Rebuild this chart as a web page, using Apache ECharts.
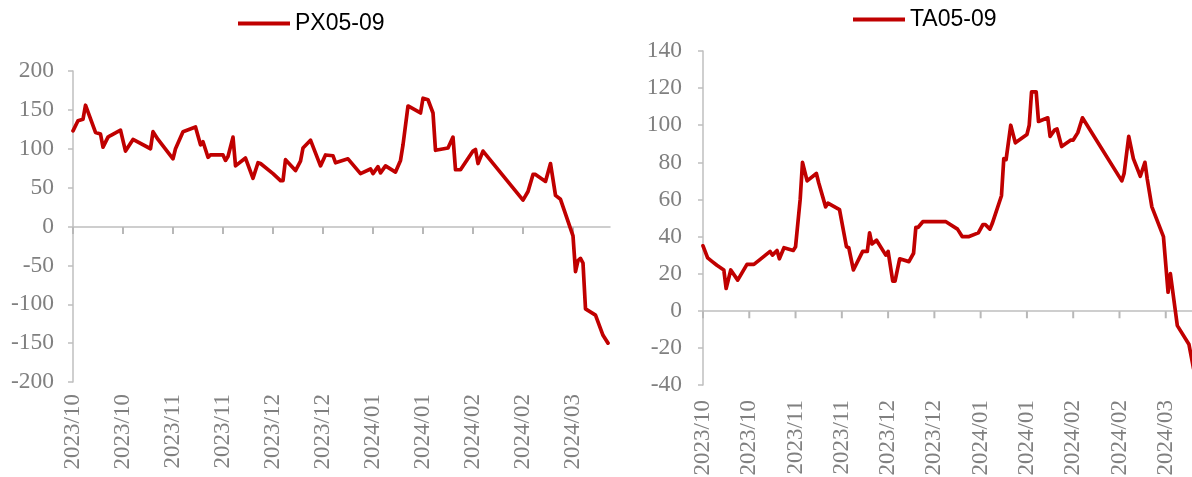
<!DOCTYPE html>
<html>
<head>
<meta charset="utf-8">
<script src="https://cdn.jsdelivr.net/npm/echarts/dist/echarts.min.js"></script>
<style>
  html, body { margin: 0; padding: 0; background: #ffffff; }
  #chart { width: 1192px; height: 477px; }
</style>
</head>
<body>
<div id="chart"></div>
<script>
// Tick labels shown under every 10th trading day
const tickLabels = ['2023/10','2023/10','2023/11','2023/11','2023/12','2023/12','2024/01','2024/01','2024/02','2024/02','2024/03'];
const tickDays = [0,10,20,30,40,50,60,70,80,90,100];

// PX05-09 spread: trading-day index and value
const pxDay = [0,1,2,2.5,4.5,5.5,6,7,7.5,9.5,10.5,12,15.5,16,17,20,20.5,22,24.5,25.5,26,27,27.5,30,30.5,31,32,32.5,34.5,36,37,37.5,40,41.5,42,42.5,44.5,45.5,46,47.5,49.5,50.5,52,52.5,55,57.5,59.5,60,61,61.5,62.5,64.5,65.5,66,67,69.5,70,71,72,72.5,75,75.5,76,76.5,77.5,80,80.5,81,82,90,91,92,92.5,94.5,95.5,96.5,97.5,100,100.5,101,101.5,102,102.5,104.5,106,107];
const pxVal = [123,136,138,156,121,119,102,115,117,124,97,112,100,122,112,87,100,122,128,105,109,89,92,92,85,90,115,78,88,62,82,81,68,59,59,86,72,84,101,111,78,92,91,82,87,68,74,68,77,69,78,70,85,105,155,146,165,163,146,98,101,108,115,73,73,97,99,81,97,34,45,67,67,58,81,40,35,-12,-58,-44,-41,-47,-106,-114,-140,-150];

// TA05-09 spread: trading-day index and value
const taDay = [0,1,2,3,4.5,5,6,7.5,9.5,11,12.5,14.5,15,16,16.5,17.5,19.5,20,21,21.5,22.5,24.5,25,26.5,27,29.5,31,31.5,32.5,34.5,35.5,36,36.5,37.5,39.5,40,41,41.5,42.5,44.5,45.5,46,46.5,47.5,52.5,55,56,57.5,59.5,60.5,61,62,62.5,64.5,65,65.5,66.5,67.5,70,70.5,71,72,72.5,74.5,75,76,76.5,77.5,79.5,80,81,82,90.5,91,92,93,94.5,95.5,96,97,99.5,100.5,101,102.5,105,106];
const taVal = [35,28.5,26.5,24.5,22,12,22,16.5,25,25,28,32,30,32.5,28,34,32.5,34.5,60,80,70,74,69,56,58,54.5,34.5,34,22,32,32,42,36,38,30,32,16,16,28,26.5,31,45,45,48,48,44,40,40,42,46.5,46.5,44,47,62,82,81.5,100,90.5,95,100,118,118,102,104,94,97.5,98,88.5,92,92,96,104,70,74,94,82,72.5,80,71,56,40,10,20,-8,-18,-31];

const RED = '#C00000';
const AXIS = '#BFBFBF';
const LABEL = '#808080';
const SERIF = '"Liberation Serif", "Times New Roman", serif';
const SANS = '"Liberation Sans", Arial, sans-serif';
const X_MAX = 107.4;

const G = [
  { left: 73, top: 71, width: 537, height: 311, yMin: -200, yMax: 200 },
  { left: 703, top: 51, width: 497, height: 334, yMin: -40, yMax: 140 }
];

function xAxesFor(gi, labelMargin) {
  return [
    {
      type: 'value', gridIndex: gi, min: 0, max: X_MAX,
      axisLine: { show: true, onZero: true, lineStyle: { color: AXIS, width: 1.5 } },
      axisTick: { show: false },
      axisLabel: { show: false },
      splitLine: { show: false }
    },
    {
      type: 'value', gridIndex: gi, min: 0, max: X_MAX, position: 'bottom',
      axisLine: { show: false, onZero: false },
      axisTick: { show: false },
      splitLine: { show: false },
      axisLabel: {
        show: true, rotate: 90, margin: labelMargin, customValues: tickDays,
        color: LABEL, fontFamily: SERIF, fontSize: 23,
        formatter: function (v) { return tickLabels[Math.round(v / 10)] || ''; }
      }
    }
  ];
}

function yAxisFor(gi, interval, margin) {
  return {
    type: 'value', gridIndex: gi, min: G[gi].yMin, max: G[gi].yMax, interval: interval,
    axisLine: { show: true, onZero: false, lineStyle: { color: AXIS, width: 1.5 } },
    axisTick: { show: true, inside: false, length: 5, lineStyle: { color: AXIS, width: 1.5 } },
    axisLabel: { show: true, margin: margin, color: LABEL, fontFamily: SERIF, fontSize: 23.5 },
    splitLine: { show: false }
  };
}

// small downward tick marks on the zero line, placed through the axes
function tickSeries(xi, yi) {
  return {
    type: 'scatter', xAxisIndex: xi, yAxisIndex: yi, silent: true, z: 1, clip: false,
    data: tickDays.map(function (d) { return [d, 0]; }),
    symbol: 'rect', symbolSize: [2, 7], symbolOffset: [0, 4],
    itemStyle: { color: '#B8B8B8', opacity: 1 },
    emphasis: { disabled: true }
  };
}

const chart = echarts.init(document.getElementById('chart'), null, { renderer: 'canvas' });
chart.setOption({
  animation: false,
  backgroundColor: '#ffffff',
  legend: [
    {
      data: ['PX05-09'], left: 238, top: 12, padding: 0, icon: 'rect', itemWidth: 52, itemHeight: 4,
      textStyle: { color: '#000000', fontFamily: SANS, fontSize: 23 }
    },
    {
      data: ['TA05-09'], left: 853, top: 8, padding: 0, icon: 'rect', itemWidth: 52, itemHeight: 4,
      textStyle: { color: '#000000', fontFamily: SANS, fontSize: 23 }
    }
  ],
  grid: G.map(function (g) {
    return { left: g.left, top: g.top, width: g.width, height: g.height, containLabel: false, outerBoundsMode: 'none' };
  }),
  xAxis: [].concat(xAxesFor(0, 12), xAxesFor(1, 15)),
  yAxis: [
    yAxisFor(0, 50, 19),
    yAxisFor(1, 20, 21)
  ],
  series: [
    tickSeries(0, 0),
    tickSeries(2, 1),
    {
      name: 'PX05-09', type: 'line', xAxisIndex: 0, yAxisIndex: 0, z: 3,
      data: pxDay.map(function (d, i) { return [d, pxVal[i]]; }),
      symbol: 'none', showSymbol: false, smooth: false,
      itemStyle: { color: RED },
      lineStyle: { color: RED, width: 3.7, join: 'round', cap: 'round' }
    },
    {
      name: 'TA05-09', type: 'line', xAxisIndex: 2, yAxisIndex: 1, z: 3,
      data: taDay.map(function (d, i) { return [d, taVal[i]]; }),
      symbol: 'none', showSymbol: false, smooth: false,
      itemStyle: { color: RED },
      lineStyle: { color: RED, width: 3.7, join: 'round', cap: 'round' }
    }
  ]
});
</script>
</body>
</html>
